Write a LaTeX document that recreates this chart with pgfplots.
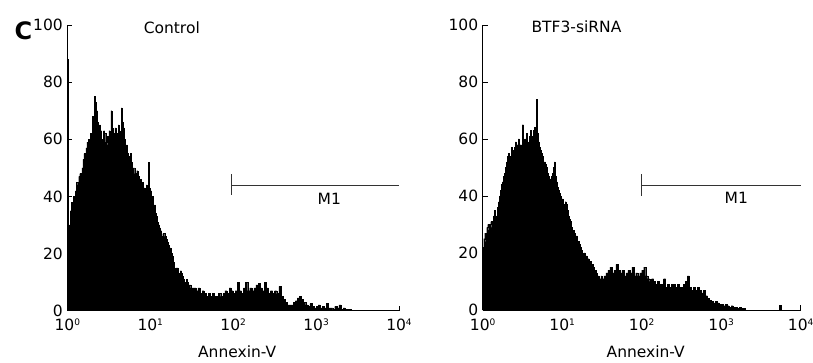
\documentclass[border=0pt]{standalone}
\usepackage{pgfplots}
\pgfplotsset{compat=1.18}
\usepackage{fontspec}
\setmainfont{DejaVu Sans}
\newcommand\ex[1]{\raisebox{5bp}{\fontsize{9bp}{9bp}\selectfont #1}}
\pgfplotstableread{
x y
0.000 88
0.008 56
0.016 22
0.025 30
0.0375 35
0.050 38
0.0625 36
0.075 40
0.0875 39
0.100 42
0.1125 45
0.125 44
0.1375 47
0.150 48
0.1625 46
0.175 50
0.1875 53
0.200 55
0.2125 52
0.225 57
0.2375 59
0.250 60
0.2625 58
0.275 62
0.2875 61
0.300 68
0.3125 64
0.325 75
0.3375 73
0.350 70
0.3625 66
0.375 62
0.3875 65
0.400 63
0.4125 60
0.425 60
0.4375 63
0.450 62
0.4625 59
0.475 61
0.4875 58
0.500 63
0.5125 60
0.525 70
0.5375 64
0.550 62
0.5625 59
0.575 64
0.5875 62
0.600 60
0.6125 65
0.625 63
0.6375 60
0.650 71
0.6625 66
0.675 64
0.6875 60
0.700 57
0.7125 58
0.725 55
0.7375 54
0.750 53
0.7625 55
0.775 52
0.7875 50
0.800 50
0.8125 48
0.825 48
0.8375 49
0.850 47
0.8625 45
0.875 46
0.8875 44
0.900 45
0.9125 42
0.925 43
0.9375 41
0.950 44
0.9625 40
0.975 52
0.9875 43
1.000 42
1.0125 39
1.025 40
1.0375 36
1.050 37
1.0625 34
1.075 33
1.0875 31
1.100 30
1.1125 29
1.125 28
1.1375 26
1.150 27
1.1625 27
1.175 26
1.1875 25
1.200 24
1.2125 23
1.225 21
1.2375 22
1.250 20
1.2625 19
1.275 17
1.2875 15
1.300 14
1.3125 15
1.325 15
1.3375 13
1.350 12
1.3625 14
1.375 13
1.3875 12
1.400 11
1.4125 10
1.425 10
1.4375 11
1.450 10
1.4625 9
1.475 9
1.4875 8
1.500 8
1.525 8
1.550 7
1.575 8
1.600 6
1.625 7
1.650 6
1.675 5
1.700 6
1.725 5
1.750 6
1.775 5
1.800 5
1.825 6
1.850 5
1.875 6
1.900 7
1.925 6
1.950 8
1.975 7
2.000 6
2.025 7
2.050 10
2.075 7
2.100 6
2.125 8
2.150 10
2.175 7
2.200 8
2.225 7
2.250 8
2.275 9
2.300 9.5
2.325 8
2.350 7
2.375 10
2.400 8
2.425 6
2.450 7
2.475 6
2.500 7
2.525 6
2.550 8.5
2.575 5
2.600 4
2.625 3
2.650 2
2.675 2
2.700 2
2.725 3
2.750 3.5
2.775 4.5
2.800 5
2.825 4
2.850 3
2.875 2
2.900 1.5
2.925 2.5
2.950 1.5
2.975 1
3.000 1.5
3.025 2
3.050 1
3.075 1.5
3.100 1
3.125 2.5
3.150 1
3.175 1
3.200 0.5
3.225 1.5
3.250 1
3.275 2
3.300 0.5
3.325 1
3.350 0.5
3.375 0.5
3.400 0.5
3.425 0
4.000 0
}\ctrl
\pgfplotstableread{
x y
0.000 22
0.0125 25
0.025 27
0.0375 24
0.050 29
0.0625 30
0.075 28
0.0875 30
0.100 31
0.1125 29
0.125 30
0.1375 33
0.150 35
0.1625 32
0.175 33
0.1875 36
0.200 38
0.2125 40
0.225 42
0.2375 44
0.250 45
0.2625 47
0.275 48
0.2875 50
0.300 52
0.3125 54
0.325 55
0.3375 54
0.350 53
0.3625 57
0.375 56
0.3875 54
0.400 57
0.4125 59
0.425 55
0.4375 58
0.450 60
0.4625 56
0.475 58
0.4875 56
0.500 65
0.5125 60
0.525 57
0.5375 60
0.550 62
0.5625 59
0.575 58
0.5875 61
0.600 63
0.6125 60
0.625 61
0.6375 63
0.650 64
0.6625 60
0.675 74
0.6875 62
0.700 59
0.7125 57
0.725 56
0.7375 55
0.750 54
0.7625 52
0.775 52
0.7875 51
0.800 50
0.8125 48
0.825 47
0.8375 45
0.850 46
0.8625 47
0.875 48
0.8875 50
0.900 52
0.9125 47
0.925 45
0.9375 43
0.950 42
0.9625 41
0.975 40
0.9875 38
1.000 39
1.0125 37
1.025 36
1.0375 38
1.050 37
1.0625 35
1.075 33
1.0875 32
1.100 31
1.1125 29
1.125 28
1.1375 28
1.150 27
1.1625 25
1.175 26
1.1875 24
1.200 24
1.2125 23
1.225 22
1.2375 21
1.250 20
1.2625 19
1.275 20
1.2875 19
1.300 19
1.3125 17
1.325 18
1.3375 16
1.350 17
1.3625 15
1.375 16
1.3875 15
1.400 14
1.4125 14
1.425 13
1.4375 12
1.450 12
1.4625 11
1.475 11
1.4875 12
1.500 11
1.525 12
1.550 13
1.575 14
1.600 15
1.625 13
1.650 14
1.675 16
1.700 14
1.725 13
1.750 14
1.775 12
1.800 13
1.825 14
1.850 13
1.875 15
1.900 12
1.925 13
1.950 12
1.975 13
2.000 14
2.025 15
2.050 12
2.075 11
2.100 10
2.125 11
2.150 10
2.175 9
2.200 10
2.225 9
2.250 9
2.275 11
2.300 8
2.325 9
2.350 8
2.375 9
2.400 9
2.425 8
2.450 9
2.475 8
2.500 8
2.525 9
2.550 10
2.575 12
2.600 8
2.625 7
2.650 8
2.675 7
2.700 8
2.725 7
2.750 6
2.775 7
2.800 5
2.825 4
2.850 3.5
2.875 3
2.900 2.5
2.925 3
2.950 2.5
2.975 2
3.000 2
3.025 1.5
3.050 2
3.075 1.5
3.100 1
3.125 1.5
3.150 1
3.175 1
3.200 0.5
3.225 1
3.250 0.5
3.275 0.5
3.300 0
3.735 1.7
3.750 0
4.000 0
}\btf
\pgfplotsset{
  hist/.style={
    scale only axis, anchor=south west,
    axis lines*=left,
    clip mode=individual,
    xmin=0, xmax=4, ymin=0, ymax=100,
    xtick={0,1,2,3,4},
    xticklabels={10\ex{0},10\ex{1},10\ex{2},10\ex{3},10\ex{4}},
    ytick={0,20,40,60,80,100},
    /pgf/number format/assume math mode=true,
    tick align=inside,
    major tick length=5bp,
    axis line style={black, line width=0.7pt},
    tick style={black, line width=0.7pt},
    tick label style={font=\fontsize{15.5bp}{18bp}\selectfont},
    label style={font=\fontsize{15.5bp}{18bp}\selectfont},
    xlabel={Annexin-V},
    xlabel style={at={(axis description cs:0.5,0)}, anchor=base, yshift=-47bp, xshift=4bp},
    yticklabel style={xshift=-1bp},
    xticklabel style={yshift=-5bp},
  }
}
\begin{document}
\begin{tikzpicture}[font=\fontsize{15.5bp}{18bp}\selectfont]
\path[use as bounding box] (0,0) rectangle (813bp,363bp);
\node[anchor=base west, font=\fontsize{24bp}{26bp}\selectfont\bfseries] at (11bp,323bp) {C};
\begin{axis}[hist, at={(67.3bp,52.3bp)}, width=331.7bp, height=285.7bp]
\addplot[const plot, fill=black, draw=black, line width=0.3pt] table[x=x,y=y]{\ctrl} \closedcycle;
\draw[black!80, line width=0.7pt] (axis cs:1.98,44) -- (axis cs:4,44);
\draw[black!80, line width=0.7pt] (axis cs:1.98,40.5) -- (axis cs:1.98,47.8);
\node[anchor=base] at (axis cs:3.16,37.3) {M1};
\node[anchor=base] at (axis cs:1.26,97.1) {Control};
\end{axis}
\begin{axis}[hist, at={(482.7bp,53bp)}, width=318bp, height=285bp]
\addplot[const plot, fill=black, draw=black, line width=0.3pt] table[x=x,y=y]{\btf} \closedcycle;
\draw[black!80, line width=0.7pt] (axis cs:1.99,43.9) -- (axis cs:4,43.9);
\draw[black!80, line width=0.7pt] (axis cs:1.99,40) -- (axis cs:1.99,47.7);
\node[anchor=base] at (axis cs:3.19,37.3) {M1};
\node[anchor=base] at (axis cs:1.18,97.4) {BTF3-siRNA};
\end{axis}
\end{tikzpicture}
\end{document}
